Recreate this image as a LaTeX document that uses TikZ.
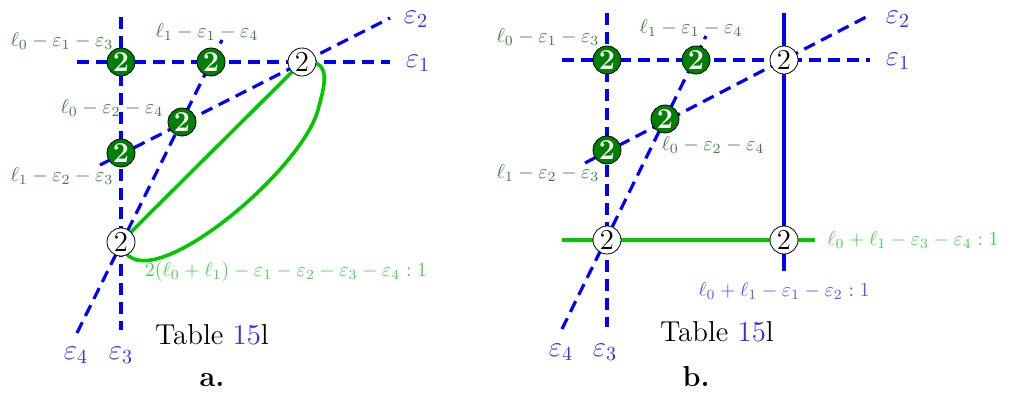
\documentclass[tikz,border=0pt]{standalone}
\usepackage{amsmath,amssymb}
\usepackage{xcolor}
\definecolor{lblgreen}{RGB}{62,122,62}
\definecolor{conicgreen}{RGB}{0,200,0}
\definecolor{conictext}{RGB}{70,210,70}
\definecolor{epsblue}{RGB}{45,45,255}
\definecolor{lineblue}{RGB}{85,85,235}
\usepackage{tikz}
\usetikzlibrary{backgrounds}
\tikzset{
  epsline/.style={blue, line width=1.6pt, dash pattern=on 6pt off 3.5pt},
  bluesolid/.style={blue, line width=1.6pt},
  conic/.style={conicgreen, line width=1.8pt},
  dblpt/.style={circle, draw, fill=green!50!black, text=white,
    inner sep=0pt, minimum size=14pt, font=\Large\bfseries},
  plainpt/.style={circle, draw, fill=white,
    inner sep=0pt, minimum size=14pt, font=\Large},
  epslabel/.style={text=epsblue, font=\Large, inner sep=1pt},
  exclabel/.style={text=lblgreen, font=\normalsize},
  conlabel/.style={text=conictext, font=\normalsize},
  linelabel/.style={text=lineblue, font=\normalsize},
  tablecap/.style={font=\Large},
}

\begin{document}
\begin{tikzpicture}[x=0.5pt, y=-0.5pt]
  \useasboundingbox (0,0) rectangle (1012,396);

  % a.
  \node[dblpt] (a13) at (121,62) {2};
  \node[dblpt] (a14) at (211,62) {2};
  \node[dblpt] (a24) at (182,122) {2};
  \node[dblpt] (a23) at (121,153) {2};
  \node[plainpt] (a12) at (302,62) {2};
  \node[plainpt] (a34) at (121,242) {2};

  \coordinate (a1w) at (77,62);   \coordinate (a1e) at (390,62);
  \coordinate (a2w) at (100,165); \coordinate (a2e) at (390,18);
  \coordinate (a3n) at (121,17);  \coordinate (a3s) at (121,330);
  \coordinate (a4n) at (222,40);  \coordinate (a4s) at (77,333);

  \begin{scope}[on background layer]
    \draw[epsline] (a1w) -- (a1e);
    \draw[epsline] (a2w) -- (a2e);
    \draw[epsline] (a3n) -- (a3s);
    \draw[epsline] (a4s) -- (a4n);
    \draw[conic] (a34.center) -- (a12.center)
      .. controls (335,58) and (323,90) .. (318,110)
      .. controls (300,175) and (135,310) .. (a34.center);
  \end{scope}

  \node[epslabel] (a-e1) at (418,63) {$\varepsilon_1$};
  \node[epslabel] (a-e2) at (416,19) {$\varepsilon_2$};
  \node[epslabel] (a-e3) at (121,355) {$\varepsilon_3$};
  \node[epslabel] (a-e4) at (76,355) {$\varepsilon_4$};

  \node[exclabel] (a-l13) at (62,41) {$\ell_0-\varepsilon_1-\varepsilon_3$};
  \node[exclabel] (a-l14) at (207,32) {$\ell_1-\varepsilon_1-\varepsilon_4$};
  \node[exclabel] (a-l24) at (112,108) {$\ell_0-\varepsilon_2-\varepsilon_4$};
  \node[exclabel] (a-l23) at (62,176) {$\ell_1-\varepsilon_2-\varepsilon_3$};
  \node[conlabel] (a-con) at (286,271)
    {$2(\ell_0+\ell_1)-\varepsilon_1-\varepsilon_2-\varepsilon_3-\varepsilon_4:1$};

  \node[tablecap] (a-tab) at (212,335) {Table \textcolor{epsblue}{15}l};
  \node[tablecap] (a-cap) at (212,380) {\textbf{a.}};

  % b.
  \node[dblpt] (b13) at (607,60) {2};
  \node[dblpt] (b14) at (696,60) {2};
  \node[dblpt] (b24) at (665,119) {2};
  \node[dblpt] (b23) at (607,150) {2};
  \node[plainpt] (b12) at (784,60) {2};
  \node[plainpt] (b34) at (607,240) {2};
  \node[plainpt] (b56) at (784,240) {2};

  \coordinate (b1w) at (562,60);  \coordinate (b1e) at (870,60);
  \coordinate (b2w) at (585,163); \coordinate (b2e) at (870,15);
  \coordinate (b3n) at (607,13);  \coordinate (b3s) at (607,327);
  \coordinate (b4n) at (706,36);  \coordinate (b4s) at (562,329);
  \coordinate (bvn) at (784,13);  \coordinate (bvs) at (784,271);
  \coordinate (bhw) at (562,240); \coordinate (bhe) at (815,240);

  \begin{scope}[on background layer]
    \draw[epsline] (b1w) -- (b1e);
    \draw[epsline] (b2w) -- (b2e);
    \draw[epsline] (b3n) -- (b3s);
    \draw[epsline] (b4s) -- (b4n);
    \draw[bluesolid] (bvn) -- (bvs);
    \draw[conic] (bhw) -- (bhe);
  \end{scope}

  \node[epslabel] (b-e1) at (898,61) {$\varepsilon_1$};
  \node[epslabel] (b-e2) at (898,19) {$\varepsilon_2$};
  \node[epslabel] (b-e3) at (605,352) {$\varepsilon_3$};
  \node[epslabel] (b-e4) at (561,352) {$\varepsilon_4$};

  \node[exclabel] (b-l13) at (548,37) {$\ell_0-\varepsilon_1-\varepsilon_3$};
  \node[exclabel] (b-l14) at (691,28) {$\ell_1-\varepsilon_1-\varepsilon_4$};
  \node[exclabel] (b-l24) at (713,145) {$\ell_0-\varepsilon_2-\varepsilon_4$};
  \node[exclabel] (b-l23) at (548,173) {$\ell_1-\varepsilon_2-\varepsilon_3$};
  \node[conlabel] (b-con) at (913,240)
    {$\ell_0+\ell_1-\varepsilon_3-\varepsilon_4:1$};
  \node[linelabel] (b-lin) at (784,291)
    {$\ell_0+\ell_1-\varepsilon_1-\varepsilon_2:1$};

  \node[tablecap] (b-tab) at (717,332) {Table \textcolor{epsblue}{15}l};
  \node[tablecap] (b-cap) at (696,377) {\textbf{b.}};
\end{tikzpicture}
\end{document}
